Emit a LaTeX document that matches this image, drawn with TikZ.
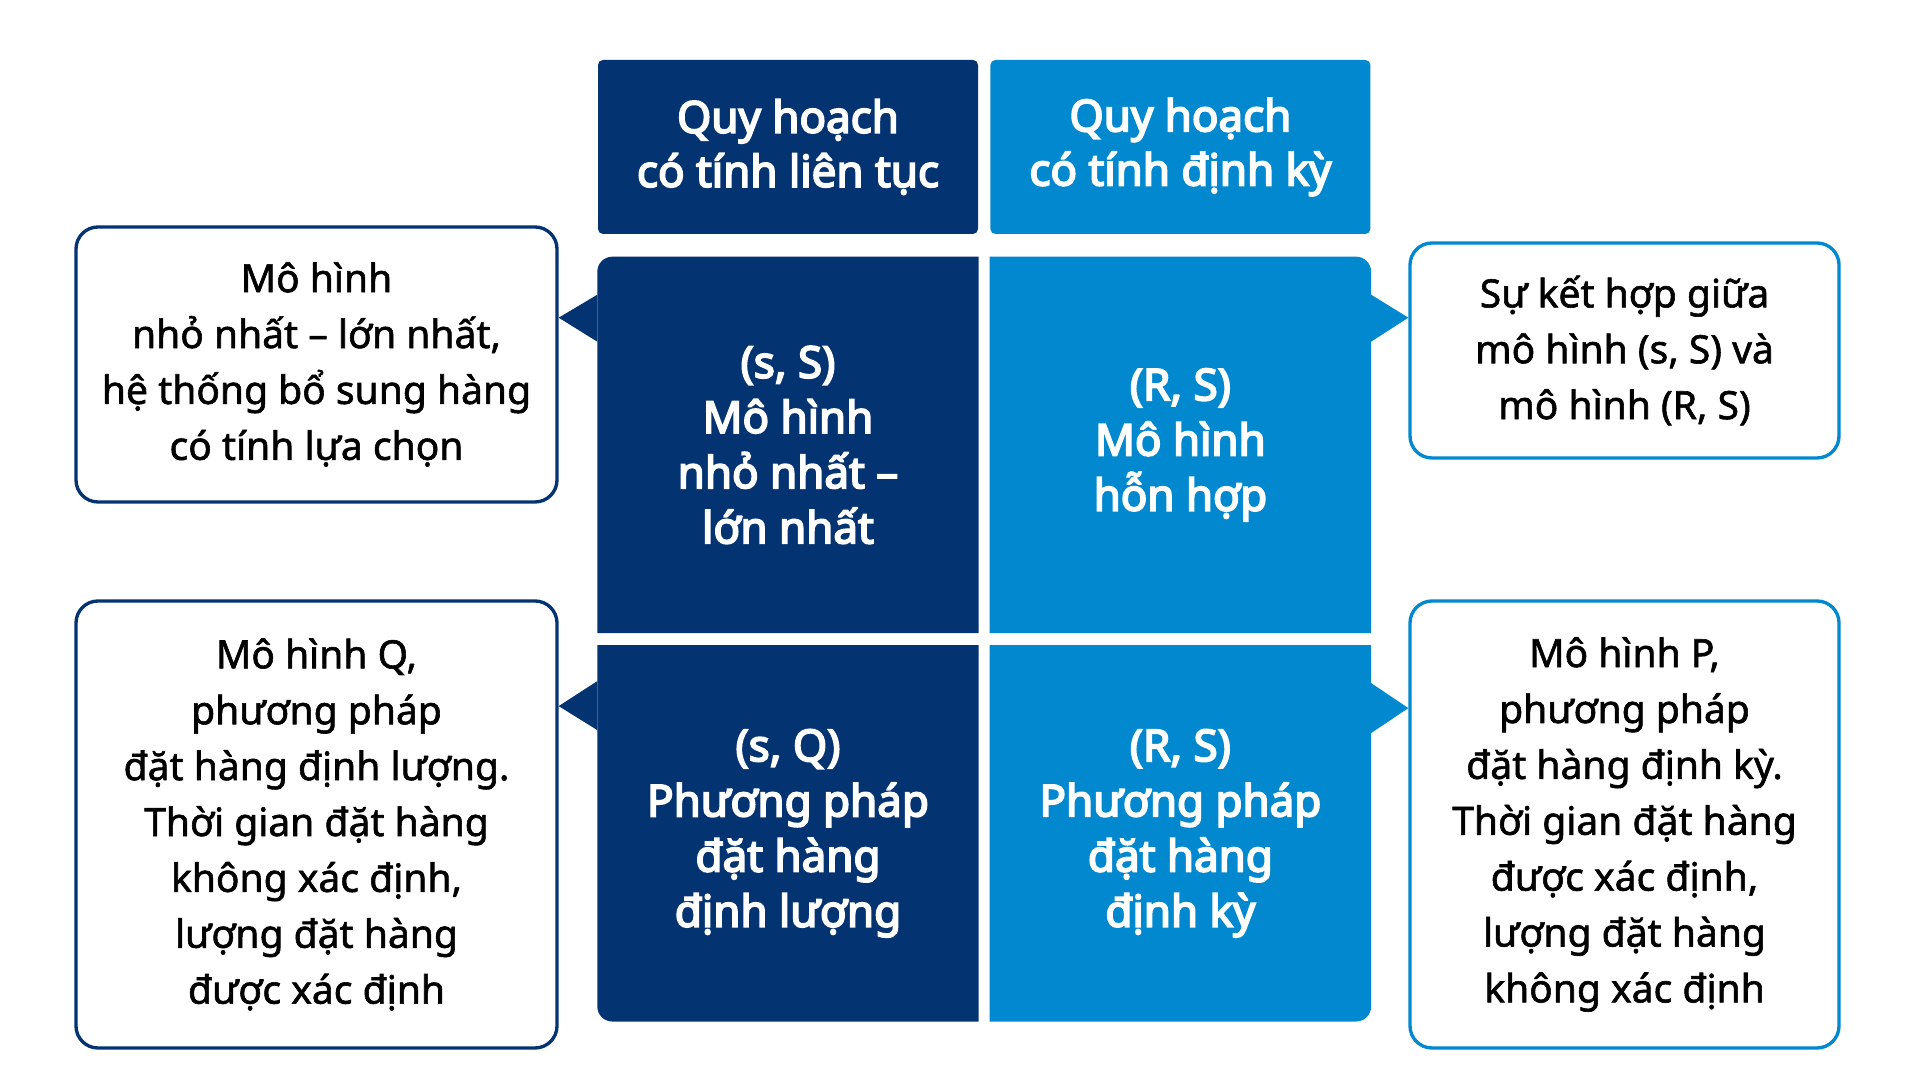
\documentclass[tikz,border=0pt]{standalone}
\usepackage{fontspec}
\setmainfont{Noto Sans}
\newfontfamily\blockfont{Noto Sans}[FakeBold=4]
\newfontfamily\notefont{Noto Sans}[FakeBold=1.5]
\usetikzlibrary{positioning,backgrounds,calc}
\definecolor{navy}{RGB}{4,51,114}
\definecolor{sky}{RGB}{1,136,207}

\begin{document}
\begin{tikzpicture}[
        head/.style={rectangle, rounded corners=0.05cm, minimum width=3.8cm, minimum height=1.74cm, text=white, align=center, font=\blockfont\fontsize{12.5}{15.4}\selectfont},
        block/.style={rectangle, minimum width=3.8cm, minimum height=3.75cm, text=white, align=center, font=\blockfont\fontsize{12.5}{15.7}\selectfont},
        note/.style={rectangle, draw, line width=0.95pt, rounded corners=0.22cm, fill=white, text=black, align=center, font=\notefont\fontsize{11.1}{15.9}\selectfont}
    ]
        \useasboundingbox (0,0) rectangle (19.2,10.8);
        % headers
        \node[head, fill=navy] (hd) at (7.88,9.33) {Quy hoạch\\có tính liên tục};
        \node[head, fill=sky, right=0.11cm of hd] (hs) {Quy hoạch\\có tính định kỳ};
        % grid
        \node[block, below=0.22cm of hd] (ss) {(s, S)\\Mô hình\\nhỏ nhất –\\lớn nhất};
        \node[block, right=0.11cm of ss] (rs) {(R, S)\\Mô hình\\hỗn hợp};
        \node[block, below=0.12cm of ss] (sq) {(s, Q)\\Phương pháp\\đặt hàng\\định lượng};
        \node[block, right=0.11cm of sq] (rq) {(R, S)\\Phương pháp\\đặt hàng\\định kỳ};
        % notes
        \node[note, draw=navy, minimum width=4.81cm, minimum height=2.75cm] (lt) at (3.165,7.155) {Mô hình\\nhỏ nhất – lớn nhất,\\hệ thống bổ sung hàng\\có tính lựa chọn};
        \node[note, draw=sky, minimum width=4.29cm, minimum height=2.15cm] (rt) at (16.245,7.295) {Sự kết hợp giữa\\mô hình (s, S) và\\mô hình (R, S)};
        \node[note, draw=navy, minimum width=4.81cm, minimum height=4.47cm] (lb) at (3.165,2.555) {Mô hình Q,\\phương pháp\\đặt hàng định lượng.\\Thời gian đặt hàng\\không xác định,\\lượng đặt hàng\\được xác định};
        \node[note, draw=sky, minimum width=4.29cm, minimum height=4.47cm] (rb) at (16.245,2.555) {Mô hình P,\\phương pháp\\đặt hàng định kỳ.\\Thời gian đặt hàng\\được xác định,\\lượng đặt hàng\\không xác định};
        \begin{scope}[on background layer]
            % blocks, outer corners rounded
            \fill[navy] (ss.south west) -- ([yshift=-0.15cm]ss.north west) arc[start angle=180, end angle=90, radius=0.15cm] -- (ss.north east) -- (ss.south east) -- cycle;
            \fill[sky] (rs.north west) -- ([xshift=-0.15cm]rs.north east) arc[start angle=90, end angle=0, radius=0.15cm] -- (rs.south east) -- (rs.south west) -- cycle;
            \fill[navy] (sq.north west) -- ([yshift=0.15cm]sq.south west) arc[start angle=180, end angle=270, radius=0.15cm] -- (sq.south east) -- (sq.north east) -- cycle;
            \fill[sky] (rq.north west) -- (rq.north east) -- ([yshift=0.15cm]rq.south east) arc[start angle=0, end angle=-90, radius=0.15cm] -- (rq.south west) -- cycle;
            % pointers
            \fill[navy] ($(ss.north west)+(0,-0.38)$) -- ($(lt.east |- ss.north)+(0,-0.61)$) -- ($(ss.north west)+(0,-0.85)$) -- cycle;
            \fill[sky] ($(rs.north east)+(0,-0.38)$) -- ($(rt.west |- rs.north)+(0,-0.61)$) -- ($(rs.north east)+(0,-0.85)$) -- cycle;
            \fill[navy] ($(sq.north west)+(0,-0.36)$) -- ($(lb.east |- sq.north)+(0,-0.61)$) -- ($(sq.north west)+(0,-0.85)$) -- cycle;
            \fill[sky] ($(rq.north east)+(0,-0.38)$) -- ($(rb.west |- rq.north)+(0,-0.63)$) -- ($(rq.north east)+(0,-0.88)$) -- cycle;
        \end{scope}
    \end{tikzpicture}
\end{document}
